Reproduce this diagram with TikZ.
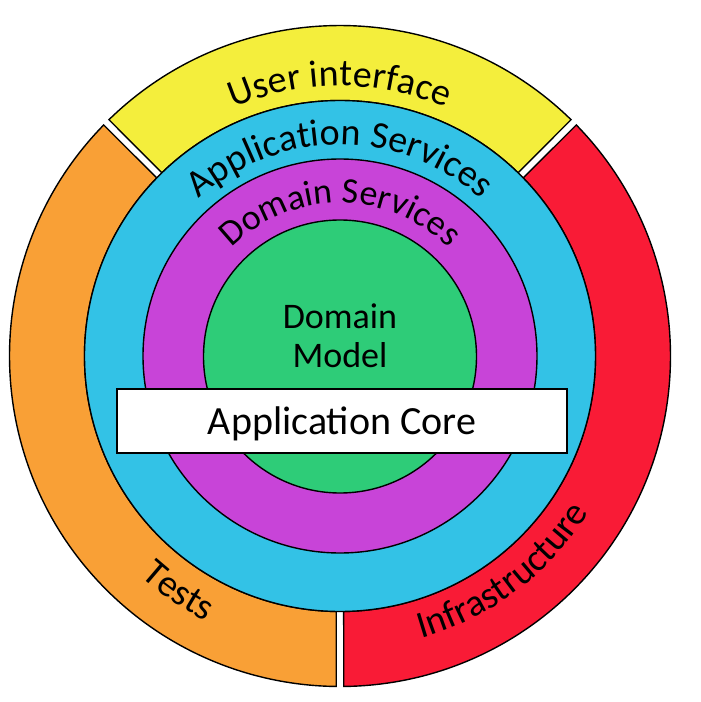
\documentclass[tikz,border=0pt]{standalone}
\usepackage{fontspec}
\setmainfont{Carlito}
\usetikzlibrary{decorations.text}
\definecolor{cyellow}{HTML}{F4EE3C}
\definecolor{corange}{HTML}{F9A036}
\definecolor{cred}{HTML}{F91B36}
\definecolor{cblue}{HTML}{33C2E6}
\definecolor{cpurple}{HTML}{C844D8}
\definecolor{cgreen}{HTML}{2ECC78}
\def\Ro{330.5}
\def\Ri{255.5}
\def\gd{3.7}
\newcommand\outsector[3]{%
  \filldraw[ring, fill=#1]
    ({#2+asin(\gd/\Ro)}:\Ro pt)
    arc[start angle={#2+asin(\gd/\Ro)}, end angle={#3-asin(\gd/\Ro)}, radius=\Ro pt]
    -- ({#3-asin(\gd/\Ri)}:\Ri pt)
    arc[start angle={#3-asin(\gd/\Ri)}, end angle={#2+asin(\gd/\Ri)}, radius=\Ri pt]
    -- cycle;}
\newcommand\fBig{\fontsize{38}{44}\selectfont}
\newcommand\fMid{\fontsize{36}{42}\selectfont}
\begin{document}
\begin{tikzpicture}[x=1pt,y=1pt,
  ring/.style={draw=black, line width=1.4pt},
  arctext/.style={decorate, decoration={text along path, text align=center, #1}}]
\useasboundingbox (-340,-346) rectangle (361,356);
\fill[white] (-340,-346) rectangle (361,356);
% outer ring sectors
\outsector{cyellow}{45}{135}
\outsector{corange}{135}{270}
\outsector{cred}{270}{405}
% inner circles
\filldraw[ring, fill=cblue] (0,0) circle[radius=255.5pt];
\filldraw[ring, fill=cpurple] (0,0) circle[radius=197pt];
\filldraw[ring, fill=cgreen] (0,-0.5) circle[radius=136.5pt];
% curved labels
\path[arctext={text={|\fBig|User interface}}] (160:270pt) arc[start angle=160, end angle=20, radius=270pt];
\path[arctext={text={|\fBig|Application Services}}] (170:211pt) arc[start angle=170, end angle=10, radius=211pt];
\path[arctext={text={|\fMid|Domain Services}}] (175:153pt) arc[start angle=175, end angle=5, radius=153pt];
\path[arctext={text={|\fBig|Tests}}] (215.5:297pt) arc[start angle=215.5, end angle=255.5, radius=297pt];
\path[arctext={text={|\fBig|Infrastructure}}] (277:294pt) arc[start angle=277, end angle=337, radius=294pt];
% center
\node[font=\fontsize{36}{39}\selectfont, align=center, anchor=base, inner sep=0pt] (model) at (0,-11) {Domain\\Model};
\node[draw=black, line width=1.4pt, fill=white, minimum width=450pt, minimum height=64pt,
      text height=26pt, text depth=0pt, inner sep=0pt, font=\fontsize{40}{46}\selectfont] (core) at (2,-65) {Application Core};
\end{tikzpicture}
\end{document}
